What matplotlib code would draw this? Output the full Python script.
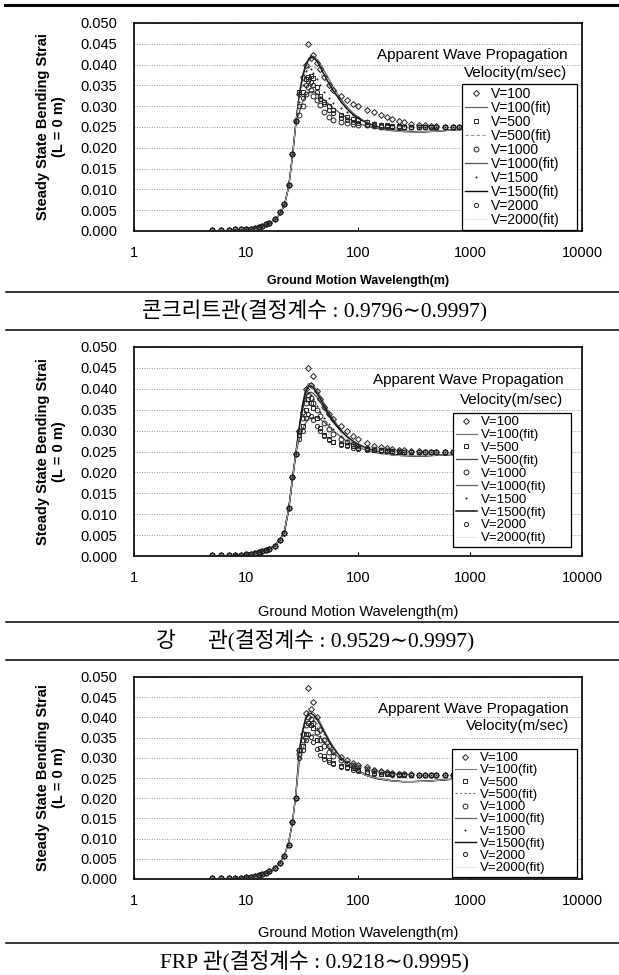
import matplotlib
matplotlib.use('Agg')
import matplotlib.pyplot as plt
from matplotlib.lines import Line2D
from matplotlib.ticker import FixedLocator, FixedFormatter

# wavelength grids (m)
X_RISE = [5, 6, 7, 8, 9, 10, 11, 12, 13, 14, 15, 16, 18, 20, 22, 24, 26, 28]
X_PEAK = [30, 32, 34, 36, 38, 40, 43, 46, 50, 55, 60, 70, 80, 90, 100, 120, 140,
          160, 180, 200, 230, 260, 300, 350, 400, 450, 500, 600, 700, 800, 1000]
XF_RISE = [8, 10, 12, 14, 16, 18, 20, 22, 24, 26, 28]
XF_PEAK = [30, 32, 34, 36, 38, 40, 43, 46, 50, 55, 60, 70, 80, 90, 100, 120, 150,
           200, 250, 300, 400, 500, 700, 1000]

VEL = ['V=100', 'V=500', 'V=1000', 'V=1500', 'V=2000']

# strain values below are in units of 1e-3
# ---- concrete pipe
CON_RISE = [0.3, 0.3, 0.3, 0.4, 0.4, 0.5, 0.6, 0.8, 1.0, 1.3, 1.6, 2.0, 3.0, 4.5, 6.5, 11.0, 18.5, 26.5]
CON_V100 = [33.0, 37.0, 40.0, 45.0, 41.5, 42.3, 40.5, 39.0, 37.0, 35.2, 34.0, 32.4, 31.4, 30.6, 30.0, 29.2,
            28.5, 27.9, 27.4, 27.0, 26.5, 26.1, 25.8, 25.6, 25.4, 25.3, 25.2, 25.1, 25.1, 25.1, 25.2]
CON_V500 = [33.5, 33.5, 36.5, 37.0, 37.2, 36.8, 34.5, 32.5, 31.0, 30.0, 29.0, 28.0, 27.4, 27.0, 26.6, 26.2,
            25.8, 25.6, 25.4, 25.3, 25.2, 25.1, 25.0, 25.0, 24.9, 24.9, 24.9, 24.9, 25.0, 25.0, 25.0]
CON_V1000 = [28.0, 30.0, 33.0, 34.5, 34.0, 32.5, 31.5, 30.3, 28.5, 27.3, 26.7, 26.3, 26.0, 25.8, 25.6, 25.4,
             25.2, 25.1, 25.0, 25.0, 24.9, 24.9, 24.9, 24.9, 24.9, 24.9, 25.0, 25.0, 25.0, 25.1, 25.2]
CON_V1500 = [31.0, 35.0, 38.5, 39.5, 39.0, 38.0, 36.5, 35.0, 33.5, 32.0, 30.8, 29.5, 28.5, 27.8, 27.3, 26.6,
             26.2, 25.9, 25.7, 25.5, 25.4, 25.3, 25.2, 25.1, 25.1, 25.0, 25.0, 25.0, 25.0, 25.1, 25.2]
CON_V2000 = [30.0, 32.0, 35.0, 36.0, 35.8, 35.0, 33.5, 31.8, 30.5, 29.2, 28.3, 27.2, 26.6, 26.2, 25.9, 25.6,
             25.4, 25.3, 25.2, 25.1, 25.0, 25.0, 25.0, 24.9, 24.9, 24.9, 25.0, 25.0, 25.0, 25.1, 25.2]
CON_FRISE = [0.2, 0.4, 0.7, 1.1, 1.7, 2.6, 4.0, 6.2, 10.5, 18.0, 26.5]
CON_F100 = [33.0, 37.5, 40.0, 41.3, 41.9, 42.0, 41.3, 40.2, 38.5, 36.5, 34.7, 31.8, 29.8, 28.4, 27.4, 26.1,
            25.0, 24.3, 24.0, 23.9, 23.9, 24.0, 24.3, 24.6]
CON_F500 = [32.5, 36.0, 38.0, 39.2, 39.6, 39.6, 39.0, 38.0, 36.6, 35.0, 33.5, 31.0, 29.2, 28.0, 27.1, 25.9,
            24.9, 24.2, 23.9, 23.8, 23.9, 24.0, 24.3, 24.6]
CON_F1000 = [28.5, 31.0, 32.5, 33.2, 33.5, 33.5, 33.0, 32.3, 31.5, 30.5, 29.6, 28.2, 27.2, 26.5, 25.9, 25.2,
             24.6, 24.1, 23.9, 23.8, 23.8, 24.0, 24.3, 24.6]
CON_F1500 = [33.0, 37.0, 39.5, 41.0, 41.6, 41.7, 40.8, 39.4, 37.5, 35.5, 33.8, 31.2, 29.3, 28.0, 27.1, 25.9,
             25.0, 24.3, 24.0, 23.9, 23.9, 24.0, 24.3, 24.6]
CON_F2000 = [31.5, 34.5, 36.2, 37.0, 37.2, 37.1, 36.5, 35.6, 34.4, 33.0, 31.8, 29.8, 28.4, 27.4, 26.7, 25.7,
             24.8, 24.2, 23.9, 23.8, 23.9, 24.0, 24.3, 24.6]

# ---- steel pipe
STL_RISE = [0.2, 0.2, 0.2, 0.3, 0.3, 0.4, 0.5, 0.7, 0.9, 1.1, 1.4, 1.7, 2.5, 3.8, 5.5, 11.5, 19.0, 24.5]
STL_V100 = [30.0, 34.5, 40.0, 45.0, 41.0, 43.0, 39.5, 37.5, 35.7, 34.0, 32.8, 31.2, 29.8, 28.8, 28.0, 27.0,
            26.4, 26.0, 25.8, 25.6, 25.4, 25.3, 25.2, 25.1, 25.0, 25.0, 25.0, 25.0, 25.0, 25.0, 25.0]
STL_V500 = [29.0, 31.0, 35.0, 37.5, 36.5, 35.5, 33.0, 30.6, 29.0, 28.0, 27.3, 26.8, 26.5, 26.2, 25.9, 25.6,
            25.4, 25.3, 25.2, 25.1, 25.0, 25.0, 25.0, 25.0, 25.0, 25.0, 25.0, 25.0, 25.0, 25.0, 25.0]
STL_V1000 = [30.0, 33.0, 36.5, 38.5, 37.8, 36.5, 35.0, 33.5, 31.8, 30.3, 29.2, 28.0, 27.2, 26.7, 26.3, 25.9,
             25.6, 25.4, 25.3, 25.2, 25.1, 25.0, 25.0, 25.0, 25.0, 25.0, 25.0, 25.0, 25.0, 25.0, 25.0]
STL_V1500 = [30.0, 33.5, 37.0, 39.0, 38.5, 37.5, 36.0, 34.5, 33.0, 31.5, 30.3, 28.8, 27.7, 27.0, 26.5, 26.0,
             25.7, 25.5, 25.3, 25.2, 25.1, 25.0, 25.0, 25.0, 25.0, 25.0, 25.0, 25.0, 25.0, 25.0, 25.0]
STL_V2000 = [28.0, 30.0, 33.0, 34.0, 33.5, 32.5, 31.0, 29.8, 28.7, 27.8, 27.2, 26.6, 26.2, 25.9, 25.7, 25.4,
             25.3, 25.2, 25.1, 25.0, 25.0, 25.0, 25.0, 25.0, 25.0, 25.0, 25.0, 25.0, 25.0, 25.0, 25.0]
STL_FRISE = [0.2, 0.4, 0.7, 1.1, 1.6, 2.5, 3.8, 5.8, 11.0, 18.5, 25.0]
STL_F100 = [31.0, 36.5, 39.8, 41.2, 41.3, 40.8, 39.6, 38.3, 36.5, 34.5, 32.8, 30.3, 28.7, 27.6, 26.8, 25.7,
            24.9, 24.3, 24.1, 24.0, 24.0, 24.1, 24.3, 24.6]
STL_F500 = [30.5, 35.0, 37.8, 39.0, 39.2, 38.9, 38.0, 36.8, 35.2, 33.5, 32.0, 29.8, 28.3, 27.3, 26.6, 25.6,
            24.8, 24.2, 24.0, 24.0, 24.0, 24.1, 24.3, 24.6]
STL_F1000 = [28.0, 30.5, 31.8, 32.6, 33.0, 33.2, 33.1, 32.7, 32.0, 31.0, 30.0, 28.5, 27.4, 26.6, 26.0, 25.2,
             24.6, 24.2, 24.0, 24.0, 24.0, 24.1, 24.3, 24.6]
STL_F1500 = [31.0, 36.0, 39.2, 40.5, 40.7, 40.2, 39.0, 37.6, 35.8, 33.9, 32.3, 30.0, 28.5, 27.4, 26.7, 25.7,
             24.9, 24.3, 24.1, 24.0, 24.0, 24.1, 24.3, 24.6]
STL_F2000 = [29.5, 33.5, 36.0, 37.0, 37.2, 37.0, 36.2, 35.4, 34.2, 32.8, 31.6, 29.6, 28.2, 27.2, 26.5, 25.5,
             24.8, 24.2, 24.0, 24.0, 24.0, 24.1, 24.3, 24.6]

# ---- FRP pipe
FRP_RISE = [0.2, 0.2, 0.2, 0.3, 0.3, 0.4, 0.5, 0.7, 0.9, 1.2, 1.5, 1.9, 2.8, 4.0, 5.6, 8.5, 14.0, 20.0]
FRP_V100 = [32.0, 36.0, 41.0, 47.3, 42.0, 43.8, 40.0, 37.0, 34.5, 32.8, 31.6, 30.3, 29.5, 28.8, 28.2, 27.6,
            27.1, 26.8, 26.5, 26.3, 26.1, 26.0, 25.9, 25.8, 25.8, 25.8, 25.8, 25.8, 25.8, 25.8, 25.8]
FRP_V500 = [32.0, 33.0, 36.0, 38.5, 38.0, 37.4, 34.5, 32.4, 30.5, 29.5, 28.8, 28.0, 27.6, 27.4, 27.1, 26.6,
            26.3, 26.1, 26.0, 25.9, 25.8, 25.8, 25.8, 25.8, 25.8, 25.8, 25.8, 25.8, 25.8, 25.8, 25.8]
FRP_V1000 = [31.0, 34.5, 38.0, 40.0, 39.5, 38.5, 36.5, 34.5, 33.0, 31.5, 30.5, 29.4, 28.7, 28.2, 27.8, 27.2,
             26.8, 26.5, 26.3, 26.1, 26.0, 25.9, 25.8, 25.8, 25.8, 25.8, 25.8, 25.8, 25.8, 25.8, 25.8]
FRP_V1500 = [31.5, 35.0, 38.5, 40.5, 40.0, 39.0, 37.5, 35.5, 33.8, 32.2, 31.0, 29.8, 29.0, 28.4, 28.0, 27.4,
             27.0, 26.6, 26.4, 26.2, 26.0, 25.9, 25.8, 25.8, 25.8, 25.8, 25.8, 25.8, 25.8, 25.8, 25.8]
FRP_V2000 = [30.0, 32.0, 34.5, 36.0, 35.2, 34.0, 32.2, 30.8, 29.8, 29.0, 28.4, 27.8, 27.4, 27.1, 26.8, 26.4,
             26.1, 26.0, 25.9, 25.8, 25.8, 25.8, 25.8, 25.8, 25.8, 25.8, 25.8, 25.8, 25.8, 25.8, 25.8]
FRP_FRISE = [0.2, 0.4, 0.7, 1.1, 1.7, 2.6, 4.0, 5.8, 9.0, 14.0, 21.5]
FRP_F100 = [32.0, 37.0, 40.0, 41.3, 41.5, 41.2, 40.2, 38.8, 36.8, 34.6, 32.8, 30.2, 28.5, 27.4, 26.6, 25.6,
            24.8, 24.3, 24.1, 24.1, 24.2, 24.4, 24.7, 25.0]
FRP_F500 = [31.5, 35.5, 38.0, 39.2, 39.5, 39.3, 38.5, 37.3, 35.6, 33.8, 32.2, 29.9, 28.3, 27.3, 26.5, 25.5,
            24.8, 24.3, 24.1, 24.1, 24.2, 24.4, 24.7, 25.0]
FRP_F1000 = [29.0, 32.0, 34.0, 35.0, 35.5, 35.7, 35.5, 35.0, 34.0, 32.7, 31.5, 29.7, 28.4, 27.5, 26.8, 25.8,
             25.0, 24.4, 24.1, 24.1, 24.2, 24.4, 24.7, 25.0]
FRP_F1500 = [32.0, 36.5, 39.5, 40.8, 41.0, 40.6, 39.6, 38.2, 36.3, 34.2, 32.5, 30.0, 28.4, 27.3, 26.6, 25.6,
             24.8, 24.3, 24.1, 24.1, 24.2, 24.4, 24.7, 25.0]
FRP_F2000 = [30.5, 34.0, 36.5, 37.5, 37.7, 37.5, 36.9, 36.0, 34.8, 33.3, 32.0, 29.8, 28.4, 27.4, 26.6, 25.6,
             24.9, 24.3, 24.1, 24.1, 24.2, 24.4, 24.7, 25.0]

CAPTIONS = ['콘크리트관(결정계수 : 0.9796∼0.9997)',
            '강      관(결정계수 : 0.9529∼0.9997)',
            'FRP 관(결정계수 : 0.9218∼0.9995)']

MARKERS = ['D', 's', 'o', '.', 'o']
MSIZE = [3.0, 3.5, 3.5, 1.5, 3.0]

FIT_STYLE = [
    [('#666666', '-', 0.9), ('#999999', (0, (3, 2)), 0.8), ('#555555', '-', 0.9), ('#111111', '-', 1.0), ('#e0e0e0', '-', 0.5)],
    [('#777777', '-', 0.9), ('#444444', '-', 0.9), ('#666666', '-', 0.9), ('#111111', '-', 1.1), ('#e0e0e0', '-', 0.5)],
    [('#777777', '-', 0.8), ('#777777', (0, (2, 2)), 0.8), ('#666666', '-', 0.9), ('#111111', '-', 1.0), ('#e0e0e0', '-', 0.5)],
]

W, H = 619.0, 975.0


def fy(px):
    return 1 - px / H


def draw_panel(ax, rise, meas, frise, fits, styles, bold_xlabel, leg_box, leg_fs, leg_sp, txt_x, txt_y):
    for i in range(5):
        ys = [v / 1000 for v in rise + meas[i]]
        ax.plot(X_RISE + X_PEAK, ys, linestyle='none', marker=MARKERS[i], ms=MSIZE[i],
                mfc='none', mec='#222222', mew=0.7, label=VEL[i], zorder=3)
        c, ls, lw = styles[i]
        yf = [v / 1000 for v in frise + fits[i]]
        ax.plot(XF_RISE + XF_PEAK, yf, color=c, linestyle=ls, linewidth=lw,
                label=VEL[i] + '(fit)', zorder=2)

    ax.set_xscale('log')
    ax.set_xlim(1, 10000)
    ax.set_ylim(0, 0.05)
    ax.xaxis.set_major_locator(FixedLocator([1, 10, 100, 1000, 10000]))
    ax.xaxis.set_major_formatter(FixedFormatter(['1', '10', '100', '1000', '10000']))
    ax.xaxis.set_minor_locator(FixedLocator([]))
    yt = [i * 0.005 for i in range(11)]
    ax.set_yticks(yt)
    ax.set_yticklabels(['%.3f' % v for v in yt])
    ax.tick_params(axis='x', direction='in', length=3, pad=11, labelsize=10.5)
    ax.tick_params(axis='y', direction='in', length=0, pad=12, labelsize=10.5)
    ax.yaxis.grid(True, linestyle=(0, (1, 2)), color='#777777', linewidth=0.6)
    for s in ax.spines.values():
        s.set_linewidth(1.2)
        s.set_color('black')

    if bold_xlabel:
        ax.set_xlabel('Ground Motion Wavelength(m)', fontsize=9, fontweight='bold')
    else:
        ax.set_xlabel('Ground Motion Wavelength(m)', fontsize=10.5)
    ax.set_ylabel('Steady State Bending Strai\n(L = 0 m)', fontsize=10.5, fontweight='bold',
                  linespacing=1.15)

    ax.text(txt_x, txt_y[0], 'Apparent Wave Propagation', transform=ax.transAxes,
            ha='right', va='center', fontsize=11)
    ax.text(txt_x, txt_y[1], 'Velocity(m/sec)', transform=ax.transAxes,
            ha='right', va='center', fontsize=11)

    leg = ax.legend(loc='lower left', bbox_to_anchor=leg_box, mode='expand', fontsize=leg_fs,
                    frameon=True, fancybox=False, framealpha=1, edgecolor='black',
                    handlelength=1.6, handletextpad=0.3, labelspacing=leg_sp,
                    borderpad=0.2, borderaxespad=0)
    leg.get_frame().set_linewidth(0.9)


plt.rcParams['font.family'] = ['Liberation Sans', 'DejaVu Sans']

fig = plt.figure(figsize=(6.19, 9.75), dpi=100)

panels = [
    (CON_RISE, [CON_V100, CON_V500, CON_V1000, CON_V1500, CON_V2000], CON_FRISE,
     [CON_F100, CON_F500, CON_F1000, CON_F1500, CON_F2000]),
    (STL_RISE, [STL_V100, STL_V500, STL_V1000, STL_V1500, STL_V2000], STL_FRISE,
     [STL_F100, STL_F500, STL_F1000, STL_F1500, STL_F2000]),
    (FRP_RISE, [FRP_V100, FRP_V500, FRP_V1000, FRP_V1500, FRP_V2000], FRP_FRISE,
     [FRP_F100, FRP_F500, FRP_F1000, FRP_F1500, FRP_F2000]),
]
# axes boxes in pixels (top, bottom)
boxes = [(23, 231), (347, 556), (677, 879)]
xlab_off = [44, 49, 47]
leg_box = [(0.732, 0.005, 0.257, 0.5), (0.712, 0.043, 0.263, 0.5), (0.710, 0.01, 0.279, 0.5)]
leg_fs = [10.0, 9.5, 9.5]
leg_sp = [0.0, 0.05, 0.0]
txt_x = [0.967, 0.958, 0.971]
txt_y = [(0.846, 0.760), (0.842, 0.746), (0.842, 0.755)]

for k in range(3):
    top, bot = boxes[k]
    ax = fig.add_axes([134 / W, fy(bot), 448 / W, (bot - top) / H])
    rise, meas, frise, fits = panels[k]
    draw_panel(ax, rise, meas, frise, fits, FIT_STYLE[k], k == 0, leg_box[k], leg_fs[k],
               leg_sp[k], txt_x[k], txt_y[k])
    ax.xaxis.set_label_coords(0.5, -xlab_off[k] / (bot - top))
    ax.yaxis.set_label_coords(-68 / 448, 0.5)

# horizontal rules and captions
fig.add_artist(Line2D([5 / W, 1], [fy(5), fy(5)], transform=fig.transFigure, color='black', lw=2.2))
for y in [292, 330, 622, 660, 943]:
    fig.add_artist(Line2D([6 / W, 1], [fy(y), fy(y)], transform=fig.transFigure, color='black', lw=1.1))
for cap, y in zip(CAPTIONS, [311, 641, 962]):
    fig.text(315 / W, fy(y), cap, ha='center', va='center', fontsize=15.5,
             family=['Liberation Serif', 'Noto Sans CJK KR', 'DejaVu Serif'])

fig.savefig('out.png', dpi=100)
